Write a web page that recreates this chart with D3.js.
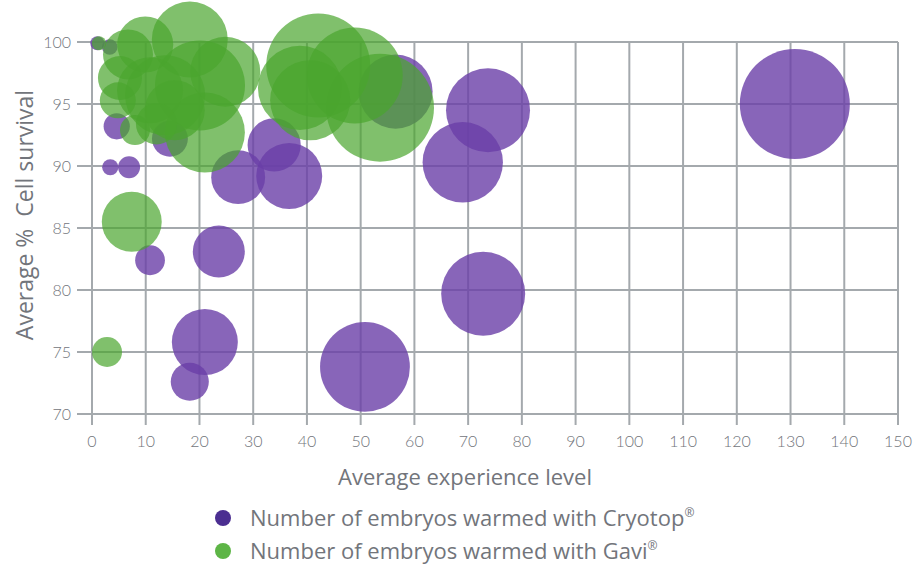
<!DOCTYPE html>
<html>
<head>
<meta charset="utf-8">
<script src="https://cdn.jsdelivr.net/npm/d3@7"></script>
<style>
  body { margin: 0; background: #fff; }
  text { font-family: "Open Sans", Lato, sans-serif; }
  .tick-label { font-family: Lato, sans-serif; }
</style>
</head>
<body>
<div id="chart"></div>
<script>
// Cryotop bubbles: experience level, % cell survival, embryos warmed
const cryoX = [130.8, 73.7, 69.0, 72.8, 50.8, 36.7, 27.2, 33.9, 23.6, 21.0, 18.2, 10.8, 4.6, 3.4, 6.9, 56.5, 14.5, 1.0, 3.3];
const cryoY = [95.0, 94.5, 90.3, 79.7, 73.8, 89.2, 89.1, 91.7, 83.1, 75.8, 72.6, 82.4, 93.2, 89.9, 89.9, 96.0, 92.2, 99.9, 99.6];
const cryoN = [3000, 1750, 1600, 1750, 2000, 1080, 720, 700, 670, 1080, 360, 220, 170, 65, 120, 1360, 320, 50, 60];

// Gavi bubbles
const gaviX = [2.8, 7.4, 53.6, 42.1, 48.9, 38.7, 40.6, 18.2, 9.9, 6.7, 24.8, 20.1, 13.6, 10.8, 21.0, 4.8, 8.0, 15.4, 1.3, 5.2, 12.0];
const gaviY = [75.0, 85.5, 94.7, 98.1, 97.3, 96.3, 95.3, 100.2, 99.8, 99.0, 97.6, 96.5, 95.7, 96.1, 92.7, 95.3, 92.9, 94.5, 99.9, 97.1, 93.4];
const gaviN = [223, 890, 2890, 2680, 2280, 1750, 1590, 1430, 780, 620, 1215, 2008, 1590, 1080, 1590, 320, 223, 890, 50, 480, 420];

const xTicks = d3.range(0, 151, 10);
const yTicks = [70, 75, 80, 85, 90, 95, 100];

const seriesNames = ["Number of embryos warmed with Cryotop", "Number of embryos warmed with Gavi"];

const W = 914, H = 564;
const margin = {top: 42, right: 16, bottom: 150, left: 92};
const width = W - margin.left - margin.right;
const height = H - margin.top - margin.bottom;

const svg = d3.select("#chart").append("svg")
    .attr("width", W)
    .attr("height", H);

const g = svg.append("g")
    .attr("transform", "translate(" + margin.left + "," + margin.top + ")");

const x = d3.scaleLinear().domain([0, 150]).range([0, width]);
const y = d3.scaleLinear().domain([70, 100]).range([height, 0]);
const r = d3.scaleSqrt().domain([0, 3000]).range([0, 55]);

const gridColor = "#a4a9ad";
const textColor = "#72757b";

// grid
g.selectAll(".vgrid").data(xTicks).enter().append("line")
    .attr("class", "vgrid")
    .attr("x1", d => x(d)).attr("x2", d => x(d))
    .attr("y1", 0).attr("y2", height + 11)
    .attr("stroke", gridColor).attr("stroke-width", 2);

g.selectAll(".hgrid").data(yTicks).enter().append("line")
    .attr("class", "hgrid")
    .attr("x1", -15).attr("x2", width)
    .attr("y1", d => y(d)).attr("y2", d => y(d))
    .attr("stroke", gridColor).attr("stroke-width", 2);

// tick labels
g.selectAll(".xlab").data(xTicks).enter().append("text")
    .attr("class", "tick-label")
    .attr("x", d => x(d))
    .attr("y", height + 33)
    .attr("text-anchor", "middle")
    .attr("font-size", 16)
    .attr("font-weight", 300)
    .attr("fill", textColor)
    .text(d => d);

g.selectAll(".ylab").data(yTicks).enter().append("text")
    .attr("class", "tick-label")
    .attr("x", -21)
    .attr("y", d => y(d) + 6)
    .attr("text-anchor", "end")
    .attr("font-size", 16)
    .attr("font-weight", 300)
    .attr("fill", textColor)
    .text(d => d);

// axis titles
svg.append("text")
    .attr("x", 465)
    .attr("y", 485)
    .attr("text-anchor", "middle")
    .attr("font-size", 22)
    .attr("fill", textColor)
    .text("Average experience level");

svg.append("text")
    .attr("transform", "translate(33,215) rotate(-90)")
    .attr("text-anchor", "middle")
    .attr("font-size", 23)
    .attr("fill", textColor)
    .attr("xml:space", "preserve")
    .text("Average %  Cell survival");

// bubbles
const cryo = cryoX.map((d, i) => ({x: d, y: cryoY[i], n: cryoN[i]}));
const gavi = gaviX.map((d, i) => ({x: d, y: gaviY[i], n: gaviN[i]}));

g.selectAll(".cryo").data(cryo).enter().append("circle")
    .attr("class", "cryo")
    .attr("cx", d => x(d.x))
    .attr("cy", d => y(d.y))
    .attr("r", d => r(d.n))
    .attr("fill", "#6a3fa8")
    .attr("fill-opacity", 0.8);

g.selectAll(".gavi").data(gavi).enter().append("circle")
    .attr("class", "gavi")
    .attr("cx", d => x(d.x))
    .attr("cy", d => y(d.y))
    .attr("r", d => r(d.n))
    .attr("fill", "#4aa52e")
    .attr("fill-opacity", 0.7);

// legend
const legColors = ["#4b2e91", "#5db546"];
const leg = svg.selectAll(".leg").data(seriesNames).enter().append("g")
    .attr("class", "leg")
    .attr("transform", (d, i) => "translate(223," + (518 + i * 33) + ")");

leg.append("circle").attr("r", 8).attr("fill", (d, i) => legColors[i]);

const lt = leg.append("text")
    .attr("x", 27)
    .attr("y", 8)
    .attr("font-size", 22)
    .attr("fill", textColor)
    .text(d => d);
lt.append("tspan")
    .attr("font-size", 12)
    .attr("dy", -9)
    .text("®");
</script>
</body>
</html>
